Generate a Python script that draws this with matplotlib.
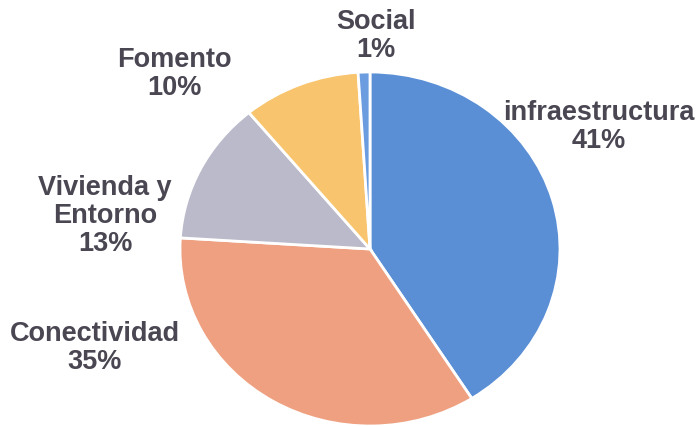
import matplotlib.pyplot as plt

# datos
categorias = ['infraestructura', 'Conectividad', 'Vivienda y\nEntorno', 'Fomento', 'Social']
porcentajes = [41, 35, 13, 10, 1]
colores = ['#5a8fd6', '#eea080', '#babaca', '#f8c56e', '#6b9ce0']

# posiciones de las etiquetas (pixeles desde arriba-izquierda)
pos_etiquetas = [(599, 127), (95, 348), (105, 216), (174, 74), (376, 36)]

W, H = 699, 427
fig = plt.figure(figsize=(W / 100, H / 100), dpi=100)
ax = fig.add_axes([0, 0, 1, 1])

ax.pie(porcentajes, colors=colores, startangle=90, counterclock=False,
       wedgeprops=dict(edgecolor='white', linewidth=2))

# la imagen escaneada deja el circulo algo achatado
cx, cy, rx, ry = 370, 250, 190, 177
ax.set_aspect('auto')
ax.set_xlim(-cx / rx, (W - cx) / rx)
ax.set_ylim(-(H - cy) / ry, cy / ry)
ax.axis('off')

for nombre, pct, (x, y) in zip(categorias, porcentajes, pos_etiquetas):
    fig.text(x / W, 1 - y / H, f'{nombre}\n{pct}%', ha='center', va='center',
             fontsize=19.5, fontweight='bold', family='Liberation Sans',
             color='#4a4652', linespacing=1.08)

fig.savefig('out.png', dpi=100)
